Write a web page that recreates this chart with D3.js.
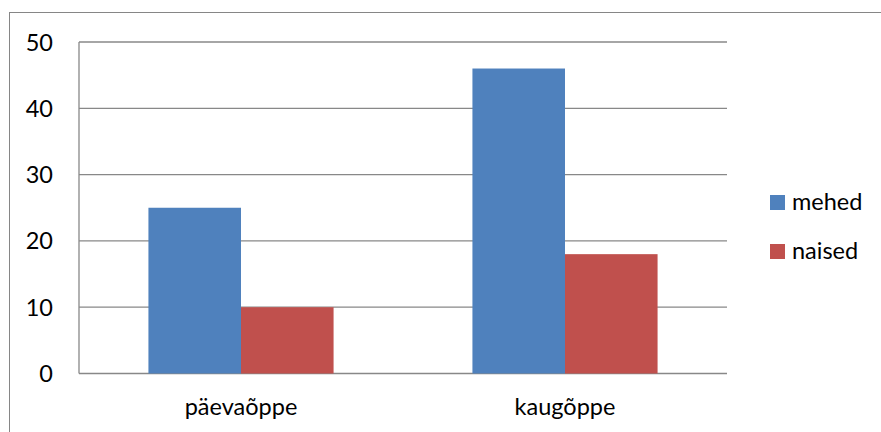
<!DOCTYPE html>
<html><head><meta charset="utf-8">
<script src="https://cdn.jsdelivr.net/npm/d3@7"></script>
<style>body{margin:0;background:#fff}svg{display:block}</style>
</head><body>
<svg id="c" width="881" height="432"></svg>
<script>
const categories = ["päevaõppe", "kaugõppe"];
const seriesNames = ["mehed", "naised"];
const mehed = [25, 46];
const naised = [10, 18];
const yTicks = [0, 10, 20, 30, 40, 50];
const colors = ["#4F81BD", "#C0504D"];

const svg = d3.select("#c");
const font = "Lato, 'Open Sans', sans-serif";
const fs = 23.5;
const L = 79, R = 727, T = 42, B = 373.5;

svg.append("rect").attr("x", 9.5).attr("y", 12.5).attr("width", 900).attr("height", 440)
  .attr("fill", "none").attr("stroke", "#868686").attr("stroke-width", 1);

const x0 = d3.scaleBand().domain(categories).range([L, R]).paddingInner(0).paddingOuter(0);
const x1 = d3.scaleBand().domain(seriesNames).range([0, x0.bandwidth()]).paddingInner(0).paddingOuter(0.75);
const y = d3.scaleLinear().domain([0, 50]).range([B, T]);

const g = svg.append("g");
g.selectAll("line.grid").data(yTicks).join("line")
  .attr("x1", L).attr("x2", R).attr("y1", d => y(d)).attr("y2", d => y(d))
  .attr("stroke", "#888").attr("stroke-width", 1.3);
g.append("line").attr("x1", L).attr("x2", L).attr("y1", T).attr("y2", B)
  .attr("stroke", "#888").attr("stroke-width", 1.3);

const data = categories.map((c, i) => ({c, vals: [mehed[i], naised[i]]}));
const grp = g.selectAll("g.cat").data(data).join("g").attr("transform", d => `translate(${x0(d.c)},0)`);
grp.selectAll("rect").data(d => d.vals.map((v, j) => ({s: seriesNames[j], v, j}))).join("rect")
  .attr("x", d => x1(d.s)).attr("width", x1.bandwidth())
  .attr("y", d => y(d.v)).attr("height", d => B - y(d.v))
  .attr("fill", d => colors[d.j]);

g.selectAll("text.yt").data(yTicks).join("text")
  .attr("x", 53).attr("y", d => y(d) + 8.5).attr("text-anchor", "end")
  .attr("font-family", font).attr("font-size", fs).attr("fill", "#000").text(d => d);

g.selectAll("text.xt").data(categories).join("text")
  .attr("x", d => x0(d) + x0.bandwidth() / 2).attr("y", 415).attr("text-anchor", "middle")
  .attr("font-family", font).attr("font-size", fs).attr("fill", "#000").text(d => d);

const leg = svg.append("g");
seriesNames.forEach((s, i) => {
  const yy = 195 + i * 49;
  leg.append("rect").attr("x", 770).attr("y", yy).attr("width", 15).attr("height", 15).attr("fill", colors[i]);
  leg.append("text").attr("x", 792).attr("y", yy + 15).attr("font-family", font).attr("font-size", fs)
    .attr("fill", "#000").text(s);
});
</script>
</body></html>
